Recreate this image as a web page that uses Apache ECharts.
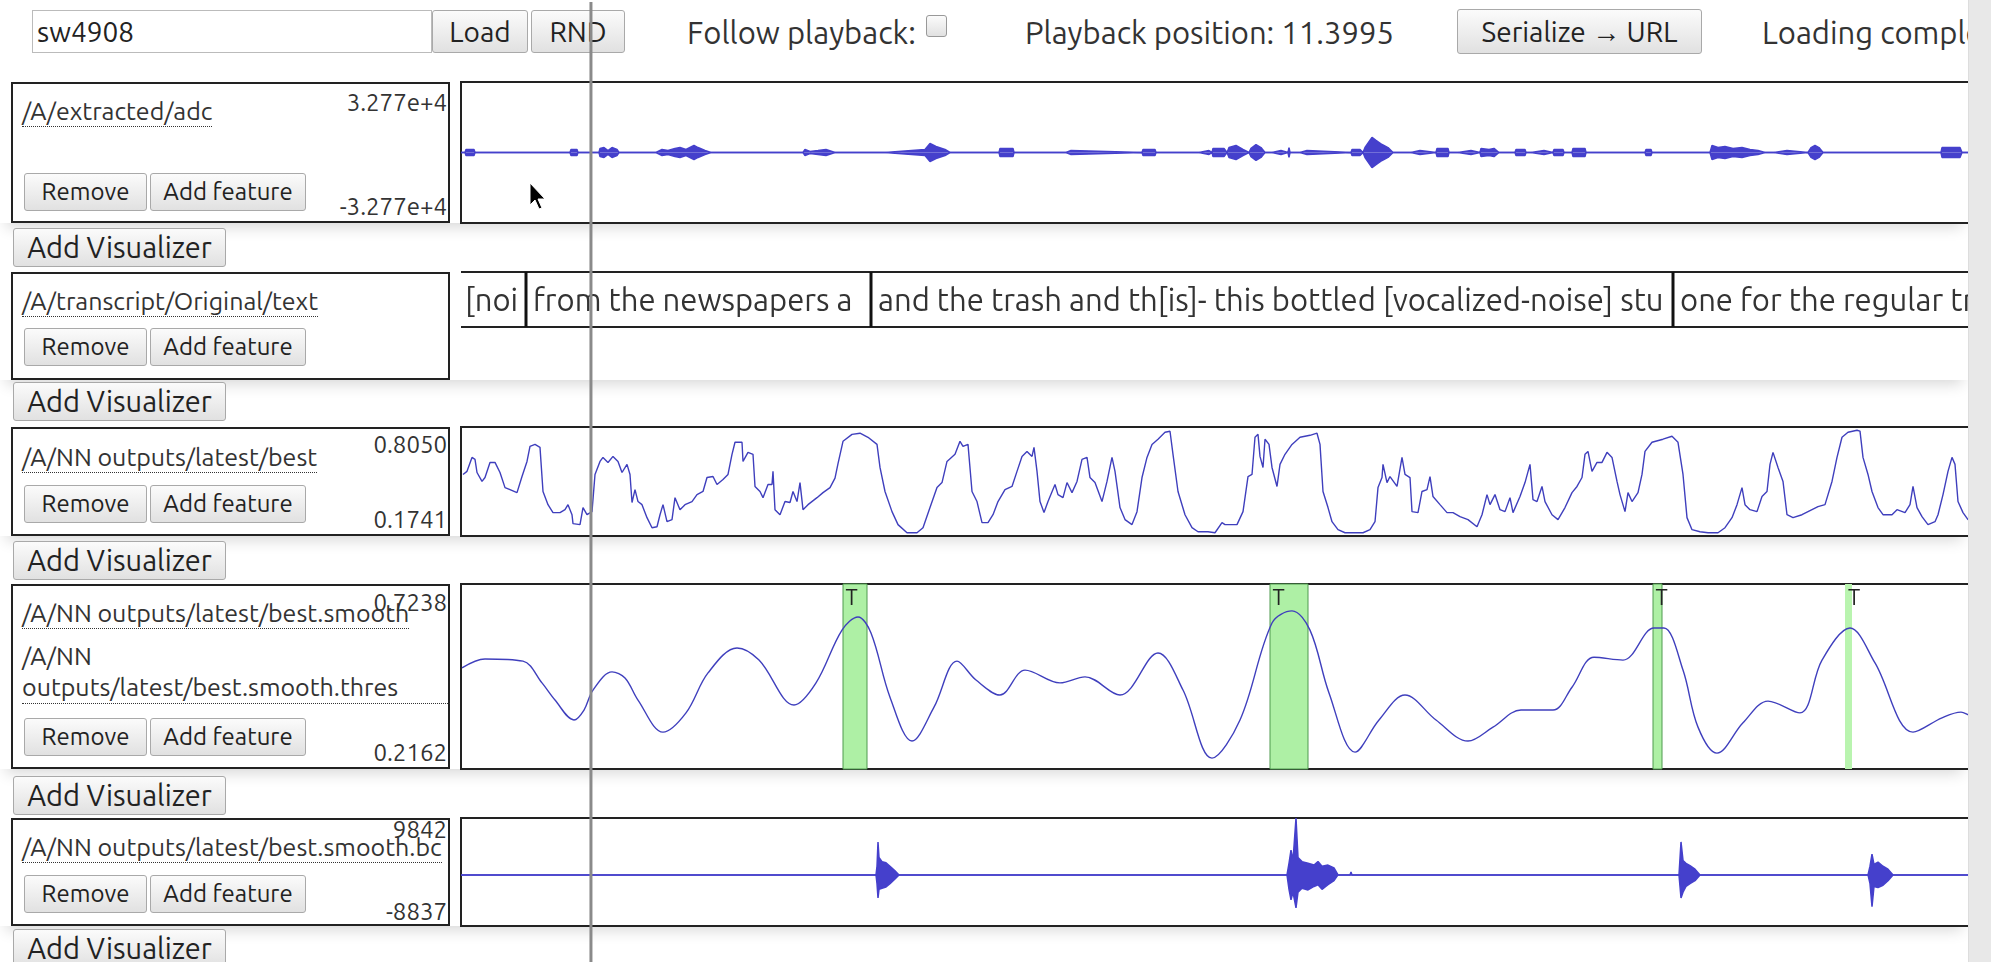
<!DOCTYPE html>
<html>
<head>
<meta charset="utf-8">
<script src="https://cdn.jsdelivr.net/npm/echarts@6/dist/echarts.min.js"></script>
<style>
  body { margin: 0; width: 1991px; height: 962px; overflow: hidden; background: #fff;
         font-family: Ubuntu, Roboto, sans-serif; color: #333; }
  .abs { position: absolute; white-space: nowrap; }
  .btn { position: absolute; box-sizing: border-box; border: 1px solid #a9a9a9; border-radius: 3px;
         background: linear-gradient(#fbfbfb, #e1e1e1); color: #222; text-align: center; white-space: nowrap; }
  .row { position: absolute; left: 0; width: 1968px; background: #fff;
         box-shadow: 0 10px 14px -6px rgba(0,0,0,0.16); }
  .side { position: absolute; left: 11px; width: 439px; box-sizing: border-box; border: 2px solid #222; }
  .lbl { position: absolute; left: 22px; font-size: 25px; line-height: 30px; border-bottom: 1px dotted #333; white-space: nowrap; }
  .rng { position: absolute; left: 300px; width: 147px; text-align: right; font-size: 24px; line-height: 30px; }
  .rm { left: 24px; width: 123px; height: 38px; line-height: 36px; font-size: 24px; }
  .af { left: 150px; width: 156px; height: 38px; line-height: 36px; font-size: 24px; }
  .addvis { left: 13px; width: 213px; height: 39px; line-height: 37px; font-size: 29px; }
  .top { font-size: 31px; line-height: 38px; top: 14px; color: #333; }
</style>
</head>
<body>

<!-- top bar -->
<div class="abs" style="left:32px;top:10px;width:400px;height:43px;box-sizing:border-box;border:1px solid #bbb;font-size:28px;line-height:41px;padding-left:4px;color:#222">sw4908</div>
<div class="btn" style="left:432px;top:10px;width:96px;height:43px;line-height:41px;font-size:28px">Load</div>
<div class="btn" style="left:531px;top:10px;width:94px;height:43px;line-height:41px;font-size:28px">RND</div>
<div class="abs top" style="left:687px">Follow playback:</div>
<div class="btn" style="left:926px;top:15px;width:21px;height:22px;border-color:#999"></div>
<div class="abs top" style="left:1025px">Playback position: 11.3995</div>
<div class="btn" style="left:1457px;top:9px;width:245px;height:45px;line-height:43px;font-size:28px">Serialize &rarr; URL</div>
<div class="abs top" style="left:1762px">Loading complete</div>

<!-- visualizer rows -->
<div class="row" style="top:82px;height:141px"></div>
<div class="side" style="top:82px;height:141px"></div>
<div class="lbl" style="top:96px">/A/extracted/adc</div>
<div class="rng" style="top:88px">3.277e+4</div>
<div class="rng" style="top:192px">-3.277e+4</div>
<div class="btn rm" style="top:173px">Remove</div>
<div class="btn af" style="top:173px">Add feature</div>
<div class="btn addvis" style="top:228px">Add Visualizer</div>

<div class="row" style="top:272px;height:108px"></div>
<div class="side" style="top:272px;height:108px"></div>
<div class="lbl" style="top:286px">/A/transcript/Original/text</div>
<div class="btn rm" style="top:328px">Remove</div>
<div class="btn af" style="top:328px">Add feature</div>
<div class="btn addvis" style="top:382px">Add Visualizer</div>

<div class="row" style="top:427px;height:109px"></div>
<div class="side" style="top:427px;height:109px"></div>
<div class="lbl" style="top:442px">/A/NN outputs/latest/best</div>
<div class="rng" style="top:430px">0.8050</div>
<div class="rng" style="top:505px">0.1741</div>
<div class="btn rm" style="top:485px">Remove</div>
<div class="btn af" style="top:485px">Add feature</div>
<div class="btn addvis" style="top:541px">Add Visualizer</div>

<div class="row" style="top:584px;height:185px"></div>
<div class="side" style="top:584px;height:185px"></div>
<div class="lbl" style="top:598px">/A/NN outputs/latest/best.smooth</div>
<div class="lbl" style="top:641px;width:428px;white-space:normal;line-height:31px">/A/NN outputs/latest/best.smooth.thres</div>
<div class="rng" style="top:588px">0.7238</div>
<div class="rng" style="top:738px">0.2162</div>
<div class="btn rm" style="top:718px">Remove</div>
<div class="btn af" style="top:718px">Add feature</div>
<div class="btn addvis" style="top:776px">Add Visualizer</div>

<div class="row" style="top:818px;height:108px"></div>
<div class="side" style="top:818px;height:108px"></div>
<div class="lbl" style="top:832px">/A/NN outputs/latest/best.smooth.bc</div>
<div class="rng" style="top:815px">9842</div>
<div class="rng" style="top:897px">-8837</div>
<div class="btn rm" style="top:875px">Remove</div>
<div class="btn af" style="top:875px">Add feature</div>
<div class="btn addvis" style="top:929px">Add Visualizer</div>

<!-- plots are wider than the window, the page cuts them at the scrollbar -->
<div id="plots" style="position:absolute;left:0;top:0;width:2100px;height:962px;z-index:5;pointer-events:none"></div>
<div style="position:absolute;left:1968px;top:0;width:23px;height:962px;background:#e8e8e8;border-left:1px solid #ddd;z-index:6"></div>
<svg style="position:absolute;left:529px;top:182px;z-index:7" width="20" height="30">
  <path d="M1 1 L1 23 L6 18 L10 27 L13 26 L9 17 L16 17 Z" fill="#000" stroke="#fff" stroke-width="1"/>
</svg>

<script>
  // time axis in seconds, visible window of the timeline
  var xMin = 10.1
  var xMax = 26.1
  var playbackPos = 11.3995

  // /A/extracted/adc : [t, envelope amplitude]
  var adcRange = [-32770, 32770]
  var adcEnv = [
    [10.10,0],[10.14,0],[10.15,1400],[10.23,1400],[10.24,0],
    [10.36,0],[10.37,500],[10.38,0],
    [11.19,0],[11.20,1400],[11.26,1400],[11.27,0],
    [11.48,0],[11.49,1900],[11.53,2300],[11.57,900],[11.61,2300],[11.66,1400],[11.68,0],
    [12.05,0],[12.06,900],[12.11,1400],[12.17,900],[12.24,1900],[12.29,2300],[12.35,1400],[12.43,3300],[12.47,2300],[12.54,900],[12.60,0],
    [13.52,0],[13.54,1400],[13.59,500],[13.67,900],[13.75,1400],[13.84,0],
    [14.34,0],[14.74,1400],[14.79,4200],[14.85,2800],[14.94,1400],[14.99,0],
    [15.48,0],[15.49,1900],[15.62,1900],[15.63,0],
    [16.15,0],[16.16,900],[16.20,900],[16.21,0],
    [16.91,0],[16.92,1400],[17.04,1400],[17.05,0],
    [17.48,0],[17.49,900],[17.58,900],[17.61,0],[17.62,1900],[17.73,1900],[17.76,0],[17.78,2300],[17.85,3300],[17.92,1400],[17.98,0],
    [18.00,1900],[18.05,3700],[18.10,2300],[18.14,0],[18.21,0],[18.22,900],[18.30,900],[18.31,0],[18.37,0],[18.38,2300],[18.39,0],
    [18.49,0],[18.50,900],[18.56,900],[18.57,0],
    [19.00,0],[19.01,1400],[19.09,1400],[19.12,0],[19.14,2300],[19.21,7000],[19.25,5600],[19.31,3700],[19.37,2300],[19.42,0],
    [19.60,0],[19.61,900],[19.69,900],[19.70,0],
    [19.85,0],[19.86,1900],[19.97,1900],[19.98,0],
    [20.07,0],[20.08,900],[20.20,900],[20.21,0],
    [20.29,0],[20.30,1900],[20.38,1400],[20.43,1900],[20.48,0],
    [20.64,0],[20.65,1400],[20.74,1400],[20.75,0],
    [20.80,0],[20.81,900],[20.93,900],[20.94,0],
    [21.02,0],[21.03,1400],[21.12,1400],[21.13,0],
    [21.21,0],[21.22,1900],[21.34,1900],[21.35,0],
    [21.94,0],[21.95,1400],[22.00,1400],[22.01,0],
    [22.59,0],[22.61,3300],[22.67,2300],[22.74,2800],[22.82,1900],[22.91,2300],[22.99,1400],[23.07,900],[23.14,0],
    [23.23,0],[23.24,900],[23.36,900],[23.37,0],
    [23.57,0],[23.60,2300],[23.64,3300],[23.68,2300],[23.72,0],
    [23.76,0],[23.77,500],[23.78,0],
    [24.90,0],[24.91,2300],[25.09,2300],[25.11,0],
    [26.10,0]
  ]

  // /A/transcript/Original/text
  var transcriptSegs = [[9.50, 10.75], [10.75, 14.20], [14.20, 22.22], [22.22, 27.00]]
  var transcriptText = [
    '[noise]',
    'from the newspapers and',
    'and the trash and th[is]- this bottled [vocalized-noise] stuff',
    'one for the regular trash'
  ]

  // /A/NN outputs/latest/best
  var bestRange = [0.1741, 0.8050]
  var best = [
    [10.12,0.533],[10.16,0.552],[10.21,0.638],[10.24,0.626],[10.26,0.545],[10.31,0.490],[10.34,0.514],[10.39,0.607],
    [10.44,0.607],[10.49,0.545],[10.54,0.452],[10.59,0.440],[10.66,0.421],[10.71,0.520],[10.76,0.613],[10.79,0.706],
    [10.84,0.718],[10.89,0.700],[10.92,0.428],[10.97,0.347],[11.02,0.298],[11.09,0.298],[11.14,0.316],[11.17,0.347],
    [11.21,0.285],[11.22,0.230],[11.29,0.224],[11.32,0.329],[11.36,0.285],[11.41,0.304],[11.44,0.533],[11.49,0.613],
    [11.52,0.638],[11.57,0.607],[11.62,0.644],[11.67,0.613],[11.71,0.545],[11.76,0.595],[11.79,0.533],[11.81,0.360],
    [11.84,0.440],[11.87,0.366],[11.91,0.347],[11.96,0.267],[12.01,0.205],[12.06,0.211],[12.09,0.285],[12.12,0.347],
    [12.16,0.242],[12.21,0.255],[12.24,0.390],[12.29,0.316],[12.34,0.347],[12.41,0.366],[12.46,0.409],[12.52,0.428],
    [12.56,0.514],[12.62,0.520],[12.66,0.471],[12.72,0.502],[12.77,0.533],[12.81,0.657],[12.84,0.731],[12.91,0.731],
    [12.92,0.613],[12.97,0.669],[13.02,0.657],[13.04,0.459],[13.09,0.428],[13.12,0.390],[13.17,0.471],[13.21,0.471],
    [13.22,0.552],[13.24,0.316],[13.29,0.285],[13.34,0.366],[13.39,0.360],[13.42,0.428],[13.46,0.366],[13.49,0.483],
    [13.52,0.316],[13.57,0.347],[13.66,0.390],[13.72,0.421],[13.79,0.452],[13.84,0.510],[13.87,0.600],[13.92,0.737],
    [14.01,0.780],[14.09,0.787],[14.17,0.762],[14.26,0.718],[14.29,0.576],[14.34,0.428],[14.41,0.304],[14.47,0.224],
    [14.56,0.174],[14.66,0.174],[14.72,0.205],[14.79,0.329],[14.86,0.452],[14.91,0.483],[14.96,0.613],[15.04,0.657],
    [15.09,0.737],[15.12,0.706],[15.17,0.718],[15.21,0.428],[15.26,0.366],[15.31,0.236],[15.37,0.236],[15.42,0.285],
    [15.47,0.366],[15.54,0.440],[15.61,0.459],[15.66,0.552],[15.71,0.644],[15.76,0.675],[15.81,0.644],[15.83,0.700],
    [15.86,0.552],[15.89,0.366],[15.93,0.298],[15.97,0.366],[16.04,0.471],[16.07,0.409],[16.12,0.390],[16.16,0.483],
    [16.21,0.421],[16.26,0.490],[16.31,0.626],[16.36,0.638],[16.39,0.514],[16.44,0.483],[16.51,0.366],[16.56,0.490],
    [16.61,0.638],[16.64,0.552],[16.69,0.329],[16.74,0.255],[16.81,0.224],[16.86,0.304],[16.91,0.514],[16.96,0.638],
    [17.01,0.718],[17.07,0.750],[17.14,0.793],[17.19,0.799],[17.22,0.657],[17.27,0.428],[17.34,0.285],[17.41,0.205],
    [17.47,0.180],[17.57,0.180],[17.64,0.174],[17.66,0.180],[17.71,0.236],[17.74,0.224],[17.86,0.224],[17.92,0.304],
    [17.97,0.520],[18.01,0.533],[18.04,0.762],[18.07,0.780],[18.09,0.644],[18.12,0.576],[18.14,0.750],[18.18,0.718],
    [18.21,0.576],[18.26,0.459],[18.29,0.595],[18.34,0.657],[18.41,0.718],[18.49,0.762],[18.59,0.774],[18.66,0.787],
    [18.69,0.718],[18.72,0.428],[18.77,0.329],[18.81,0.242],[18.87,0.193],[18.94,0.174],[19.12,0.174],[19.19,0.193],
    [19.24,0.242],[19.27,0.452],[19.31,0.514],[19.32,0.595],[19.36,0.483],[19.39,0.520],[19.46,0.459],[19.51,0.638],
    [19.54,0.533],[19.59,0.514],[19.61,0.304],[19.67,0.298],[19.71,0.428],[19.76,0.440],[19.79,0.520],[19.82,0.397],
    [19.89,0.347],[19.96,0.298],[20.02,0.298],[20.09,0.273],[20.17,0.255],[20.26,0.211],[20.31,0.285],[20.36,0.409],
    [20.39,0.347],[20.44,0.409],[20.49,0.316],[20.54,0.304],[20.59,0.390],[20.62,0.298],[20.69,0.397],[20.74,0.483],
    [20.79,0.595],[20.82,0.378],[20.86,0.366],[20.91,0.459],[20.94,0.366],[21.01,0.285],[21.07,0.255],[21.14,0.329],
    [21.21,0.421],[21.26,0.459],[21.31,0.514],[21.34,0.657],[21.37,0.675],[21.41,0.552],[21.46,0.607],[21.51,0.607],
    [21.56,0.669],[21.61,0.638],[21.66,0.490],[21.69,0.409],[21.74,0.304],[21.77,0.421],[21.81,0.366],[21.87,0.421],
    [21.91,0.533],[21.94,0.675],[22.01,0.731],[22.12,0.750],[22.21,0.768],[22.27,0.731],[22.32,0.533],[22.36,0.267],
    [22.41,0.193],[22.49,0.180],[22.57,0.174],[22.67,0.174],[22.74,0.205],[22.81,0.267],[22.86,0.347],[22.91,0.452],
    [22.94,0.347],[22.99,0.316],[23.06,0.304],[23.11,0.397],[23.16,0.428],[23.19,0.595],[23.22,0.669],[23.27,0.576],
    [23.32,0.490],[23.36,0.285],[23.42,0.267],[23.51,0.285],[23.57,0.304],[23.67,0.335],[23.74,0.347],[23.81,0.490],
    [23.86,0.638],[23.91,0.762],[23.97,0.793],[24.06,0.805],[24.09,0.800],[24.12,0.638],[24.17,0.533],[24.21,0.428],
    [24.27,0.329],[24.32,0.285],[24.41,0.285],[24.46,0.316],[24.54,0.298],[24.59,0.347],[24.62,0.459],[24.66,0.329],
    [24.71,0.273],[24.77,0.224],[24.84,0.242],[24.87,0.285],[24.92,0.409],[24.97,0.552],[25.01,0.638],[25.04,0.595],
    [25.07,0.366],[25.12,0.298],[25.17,0.255],[25.25,0.262]
  ]

  // /A/NN outputs/latest/best.smooth
  var smoothRange = [0.2162, 0.7238]
  var smooth = [
    [10.11,0.494],[10.34,0.519],[10.72,0.513],[10.91,0.452],[11.04,0.404],[11.23,0.348],[11.33,0.376],[11.42,0.432],
    [11.61,0.483],[11.74,0.466],[11.87,0.404],[12.12,0.314],[12.35,0.368],[12.57,0.480],[12.86,0.550],[13.08,0.516],
    [13.43,0.390],[13.65,0.452],[13.91,0.600],[14.07,0.637],[14.20,0.592],[14.39,0.412],[14.61,0.289],[14.83,0.384],
    [15.06,0.513],[15.25,0.460],[15.49,0.418],[15.74,0.488],[16.09,0.452],[16.34,0.469],[16.69,0.418],[17.07,0.536],
    [17.32,0.432],[17.61,0.241],[17.89,0.348],[18.21,0.620],[18.41,0.654],[18.59,0.600],[18.78,0.424],[19.04,0.258],
    [19.28,0.348],[19.54,0.418],[19.85,0.348],[20.17,0.289],[20.42,0.328],[20.70,0.376],[21.02,0.376],[21.21,0.440],
    [21.43,0.524],[21.72,0.516],[22.03,0.606],[22.13,0.606],[22.32,0.488],[22.47,0.328],[22.66,0.255],[22.92,0.340],
    [23.17,0.401],[23.49,0.368],[23.71,0.516],[23.99,0.606],[24.24,0.508],[24.62,0.314],[24.91,0.354],[25.10,0.370],
    [25.18,0.362],[25.30,0.350]
  ]

  // /A/NN outputs/latest/best.smooth.thres
  var thresStart = [13.92, 18.19, 22.02, 23.94]
  var thresEnd = [14.16, 18.57, 22.11, 24.01]
  var thresLabel = ['T', 'T', 'T', 'T']

  // /A/NN outputs/latest/best.smooth.bc : [t, upper, lower]
  var bcRange = [-8837, 9842]
  var bcEnv = [
    [10.10,0,0],
    [14.25,0,0],[14.26,1500,-1500],[14.27,5700,-4000],[14.28,3000,-2500],[14.31,2300,-2300],[14.35,2100,-2100],
    [14.39,1500,-1500],[14.44,700,-700],[14.48,0,0],
    [18.36,0,0],[18.38,2000,-2500],[18.40,4300,-4300],[18.42,2500,-3000],[18.45,9842,-5700],[18.47,3000,-3000],
    [18.51,2300,-2300],[18.57,2000,-2600],[18.63,1700,-2000],[18.67,2300,-1700],[18.71,1500,-2500],[18.77,1700,-1700],
    [18.83,1200,-1000],[18.87,0,0],[18.99,0,0],[19.00,500,-300],[19.01,0,0],
    [22.28,0,0],[22.30,5700,-4000],[22.32,2500,-3000],[22.35,2000,-2000],[22.39,1600,-1500],[22.44,1000,-1000],[22.49,0,0],
    [24.17,0,0],[24.19,1500,-1500],[24.21,3600,-5500],[24.23,1800,-2000],[24.27,2200,-2200],[24.32,1500,-1800],
    [24.37,1000,-1000],[24.42,0,0],
    [26.10,0,0]
  ]

  var waveColor = '#4540cc'
  var curveColor = '#3f3fbd'
  var gridLeft = 461
  var gridWidth = 1600
  var panels = [
    { top: 82, height: 141, border: true, range: adcRange, pad: 0 },
    { top: 272, height: 55, border: false, range: [0, 1], pad: 0 },
    { top: 427, height: 109, border: true, range: bestRange, pad: 0.032 },
    { top: 584, height: 185, border: true, range: smoothRange, pad: 0.011 },
    { top: 818, height: 108, border: true, range: bcRange, pad: 0 }
  ]

  function lineSeries (idx, data, color, area) {
    return {
      type: 'line', xAxisIndex: idx, yAxisIndex: idx, data: data,
      symbol: 'none', animation: false, silent: true,
      lineStyle: { color: color, width: area ? 1.5 : 1.4 },
      areaStyle: area ? { color: color, opacity: 1 } : null
    }
  }

  function renderSegment (params, api) {
    var cs = params.coordSys
    var x0 = api.coord([api.value(0), 0])[0]
    var x1 = api.coord([api.value(1), 0])[0]
    var left = Math.max(x0, cs.x)
    var right = Math.min(x1, cs.x + cs.width)
    if (right <= left) return
    var top = cs.y
    var bot = cs.y + cs.height
    var pad = x0 >= cs.x ? 7 : 4
    var kids = [
      { type: 'line', shape: { x1: left, y1: top, x2: right, y2: top }, style: { stroke: '#222', lineWidth: 2 } },
      { type: 'line', shape: { x1: left, y1: bot, x2: right, y2: bot }, style: { stroke: '#222', lineWidth: 2 } },
      { type: 'text', x: left + pad, y: (top + bot) / 2 + 1,
        style: { text: transcriptText[params.dataIndex], fill: '#333', font: '31px Ubuntu, Roboto, sans-serif',
                 verticalAlign: 'middle', width: right - left - pad, overflow: 'truncate', ellipsis: '' } }
    ]
    if (x0 >= cs.x) {
      kids.push({ type: 'line', shape: { x1: x0, y1: top, x2: x0, y2: bot }, style: { stroke: '#111', lineWidth: 3 } })
    }
    return { type: 'group', children: kids }
  }

  var chart = echarts.init(document.getElementById('plots'), null, { renderer: 'canvas' })

  var option = {
    animation: false,
    grid: panels.map(function (p) {
      return { left: gridLeft, width: gridWidth, top: p.top, height: p.height,
               show: p.border, borderColor: '#222', borderWidth: 2, backgroundColor: 'transparent' }
    }),
    xAxis: panels.map(function (p, i) {
      return { type: 'value', gridIndex: i, min: xMin, max: xMax, show: false }
    }),
    yAxis: panels.map(function (p, i) {
      var d = (p.range[1] - p.range[0]) * p.pad
      return { type: 'value', gridIndex: i, min: p.range[0] - d, max: p.range[1] + d, show: false, scale: true }
    }),
    series: [
      lineSeries(0, adcEnv.map(function (d) { return [d[0], d[1]] }), waveColor, true),
      lineSeries(0, adcEnv.map(function (d) { return [d[0], -d[1]] }), waveColor, true),
      {
        type: 'custom', xAxisIndex: 1, yAxisIndex: 1, data: transcriptSegs,
        encode: { x: [0, 1] }, renderItem: renderSegment, silent: true
      },
      lineSeries(2, best, curveColor, false),
      Object.assign(lineSeries(3, smooth, curveColor, false), {
        smooth: 0.35,
        markArea: {
          silent: true,
          itemStyle: { color: '#aef0a5', borderColor: '#4e9a4e', borderWidth: 1 },
          label: { show: true, position: 'insideTopLeft', distance: 3, color: '#222', fontSize: 22,
                   fontFamily: 'Ubuntu, Roboto, sans-serif' },
          data: thresStart.map(function (s, i) {
            var first = { xAxis: s, name: thresLabel[i] }
            if (i === 3) first.itemStyle = { color: '#b9f4af', borderWidth: 0 }
            return [first, { xAxis: thresEnd[i] }]
          })
        }
      }),
      lineSeries(4, bcEnv.map(function (d) { return [d[0], d[1]] }), waveColor, true),
      lineSeries(4, bcEnv.map(function (d) { return [d[0], d[2]] }), waveColor, true)
    ]
  }
  chart.setOption(option)

  // playback cursor across the whole page
  var px = chart.convertToPixel({ xAxisIndex: 0 }, playbackPos)
  chart.setOption({
    graphic: [{
      type: 'line', z: 100, silent: true,
      shape: { x1: px, y1: 2, x2: px, y2: 962 },
      style: { stroke: '#8a8a8a', lineWidth: 3 }
    }]
  })
</script>
</body>
</html>
